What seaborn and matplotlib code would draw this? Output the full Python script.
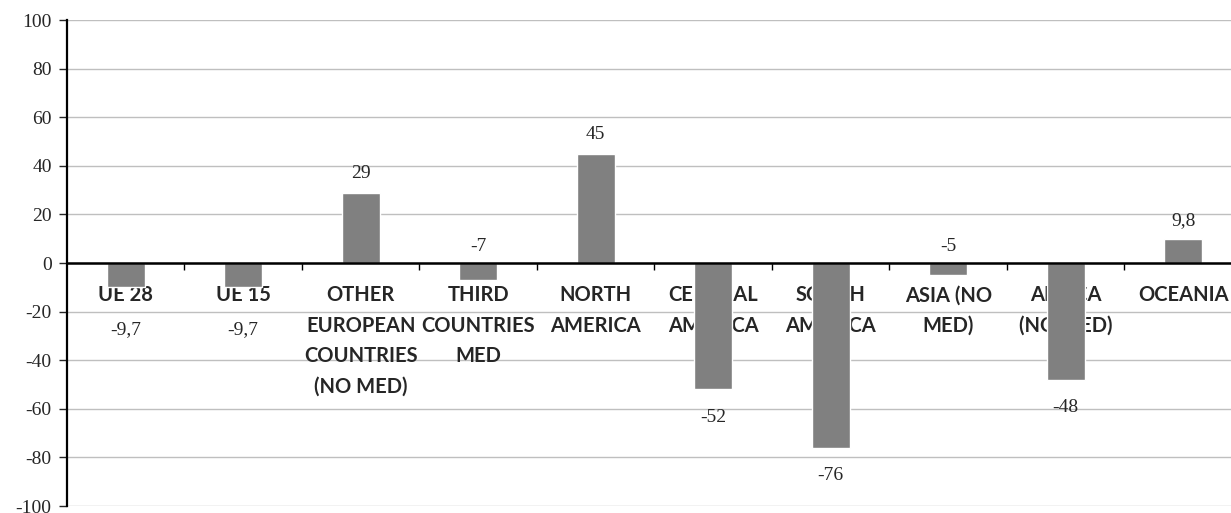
import matplotlib
matplotlib.use("Agg")
import pandas as pd
import seaborn as sns
import matplotlib.pyplot as plt
from matplotlib.ticker import MultipleLocator

# data
regions = ["UE 28", "UE 15", "OTHER\nEUROPEAN\nCOUNTRIES\n(NO MED)", "THIRD\nCOUNTRIES\nMED",
           "NORTH\nAMERICA", "CENTRAL\nAMERICA", "SOUTH\nAMERICA", "ASIA (NO\nMED)",
           "AFRICA\n(NO MED)", "OCEANIA"]
values = [-9.7, -9.7, 29, -7, 45, -52, -76, -5, -48, 9.8]
value_labels = ["-9,7", "-9,7", "29", "-7", "45", "-52", "-76", "-5", "-48", "9,8"]

df = pd.DataFrame({"region": regions, "value": values})

sns.set_style("white")
plt.rcParams["axes.unicode_minus"] = False
fig = plt.figure(figsize=(12.31, 5.13), dpi=100)
ax = fig.add_axes([0.0544, 0.0136, 0.9545, 0.9474])

sns.barplot(data=df, x="region", y="value", order=regions, color="#808080",
            saturation=1, width=0.32, ax=ax, zorder=2, errorbar=None)

ax.set_ylim(-100, 100)
ax.set_xlim(-0.5, len(regions) - 0.5)
ax.yaxis.set_major_locator(MultipleLocator(20))
ax.grid(axis="y", color="#bfbfbf", linewidth=1)
ax.set_axisbelow(True)

for s in ["top", "right"]:
    ax.spines[s].set_visible(False)
ax.spines["left"].set_color("black")
ax.spines["left"].set_linewidth(1.6)
ax.spines["bottom"].set_position(("data", 0))
ax.spines["bottom"].set_color("black")
ax.spines["bottom"].set_linewidth(1.8)

ax.set_xlabel("")
ax.set_ylabel("")
ax.tick_params(axis="y", left=True, length=6, width=1, direction="out", labelsize=14, pad=5)
for t in ax.get_yticklabels():
    t.set_family("Liberation Serif")

# ticks between categories, labels drawn as text under the bars
ax.set_xticks([i + 0.5 for i in range(len(regions) - 1)])
ax.set_xticklabels([])
ax.tick_params(axis="x", bottom=True, length=5, width=1, direction="out", color="black")

for i, lab in enumerate(regions):
    ax.annotate(lab, (i, 0), xytext=(0, -16), textcoords="offset points", ha="center",
                va="top", fontsize=14.5, fontweight="bold", family="Lato",
                linespacing=1.65, zorder=1, annotation_clip=False)

for i, (v, lab) in enumerate(zip(values, value_labels)):
    if v >= 0:
        y, off = v, 13.7
    elif v > -8:
        y, off = 0, 12
    elif v > -20:
        y, off = v, -31
    else:
        y, off = v, -20
    ax.annotate(lab, (i, y), xytext=(0, off), textcoords="offset points", ha="center",
                va="center", fontsize=14, family="Liberation Serif", zorder=3)

fig.savefig("out.png", dpi=100)
